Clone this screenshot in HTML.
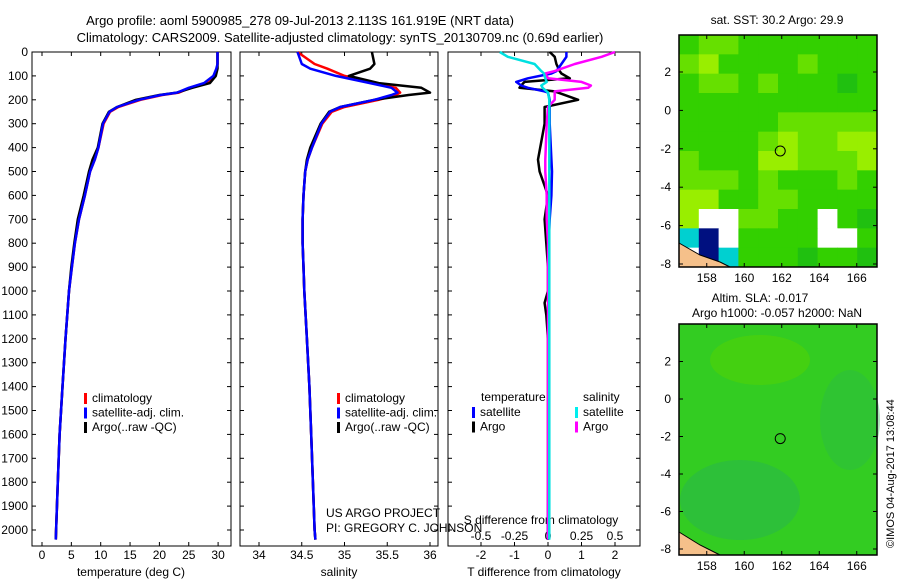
<!DOCTYPE html>
<html><head><meta charset="utf-8"><style>
body{margin:0;background:#fff}
svg{font-family:"Liberation Sans",sans-serif;font-size:12px}
</style></head><body>
<svg id="c" width="900" height="580" xmlns="http://www.w3.org/2000/svg">
<rect width="900" height="580" fill="#fff"/>
<text x="300" y="25" text-anchor="middle" font-size="13">Argo profile: aoml 5900985_278 09-Jul-2013 2.113S 161.919E (NRT data)</text>
<text x="340" y="42" text-anchor="middle" font-size="13">Climatology: CARS2009. Satellite-adjusted climatology: synTS_20130709.nc (0.69d earlier)</text>
<g id="g"></g>
<text x="777" y="24" text-anchor="middle">sat. SST: 30.2 Argo: 29.9</text>
<text x="760" y="302" text-anchor="middle">Altim. SLA: -0.017</text>
<text x="777" y="317" text-anchor="middle">Argo h1000: -0.057 h2000: NaN</text>
<text transform="translate(894,548) rotate(-90)" font-size="11">©IMOS 04-Aug-2017 13:08:44</text>
<text x="326" y="517">US ARGO PROJECT</text>
<text x="326" y="532">PI: GREGORY C. JOHNSON</text>
</svg>
<script>
const NS="http://www.w3.org/2000/svg";
const depthTicks=[0,100,200,300,400,500,600,700,800,900,1000,1100,1200,1300,1400,1500,1600,1700,1800,1900,2000];
const tTicks=[0,5,10,15,20,25,30];
const sTicks=[34,34.5,35,35.5,36];
const dtTicks=[-2,-1,0,1,2];
const dsTicks=[-0.5,-0.25,0,0.25,0.5];
const depths=[0,50,70,100,130,150,170,180,200,230,250,300,400,450,500,600,700,800,900,1000,1200,1400,1600,1800,2000,2040];
const tClim=[29.9,29.9,29.8,29.4,28.0,25.2,23.3,20.5,16.8,13.0,11.6,10.5,9.6,9.0,8.2,7.3,6.3,5.6,5.1,4.6,4.0,3.5,3.0,2.7,2.4,2.35];
const tSat=[29.9,29.9,29.7,29.2,27.6,25.0,23.0,20.2,16.5,12.8,11.5,10.4,9.6,9.0,8.2,7.3,6.3,5.6,5.1,4.6,4.0,3.5,3.0,2.7,2.4,2.35];
const tArgo=[29.9,29.9,29.9,29.6,28.6,25.6,23.0,20.0,16.0,12.8,11.4,10.3,9.5,8.6,8.0,7.1,6.1,5.5,5.0,4.6,4.0,3.5,3.0,2.7,2.4,2.35];
const sClim=[34.45,34.65,34.8,35.0,35.35,35.6,35.65,35.6,35.4,35.0,34.85,34.74,34.62,34.57,34.54,34.52,34.51,34.51,34.52,34.53,34.56,34.59,34.61,34.63,34.65,34.66];
const sSat=[34.45,34.5,34.6,34.9,35.3,35.55,35.62,35.55,35.35,34.95,34.83,34.73,34.62,34.57,34.54,34.52,34.51,34.51,34.52,34.53,34.56,34.59,34.61,34.63,34.65,34.66];
const sArgo=[35.32,35.35,35.3,35.05,35.4,35.9,36.0,35.75,35.35,34.95,34.82,34.72,34.6,34.56,34.54,34.52,34.51,34.51,34.52,34.53,34.56,34.59,34.61,34.63,34.65,34.66];
const dDepths=[0,20,50,80,90,110,125,140,150,165,170,200,230,300,450,500,600,700,800,900,1000,1050,1100,1200,1500,2000,2040];
const dtSat=[0.55,0.55,0.4,0.25,0.1,-0.6,-0.95,-0.8,-0.6,-0.1,0,0.05,0.05,0.05,0.1,0.12,0.1,0.05,0.02,0.02,0.02,0.02,0.02,0.02,0.02,0.0,0.0];
const dtArgo=[0.05,0.2,0.25,0.35,0.4,0.65,-0.7,-0.8,-0.85,0.2,0.3,0.9,-0.1,-0.1,-0.3,-0.25,0,-0.1,-0.05,0,0,-0.1,-0.05,0,0,0,0];
const dsSat=[-0.36,-0.3,-0.1,-0.05,-0.03,-0.02,-0.01,-0.05,-0.04,-0.01,0,0.01,0.01,0.01,0.01,0.01,0.01,0.01,0.01,0.01,0.01,0.01,0.01,0.01,0.01,0.01,0.01];
const dsArgo=[0.5,0.4,0.2,0.05,-0.02,0.0,0.25,0.32,0.3,0.05,0.05,0.05,0.0,-0.01,-0.02,-0.02,-0.01,-0.01,0,0,0,0,0,0,0,0,0];
const sstRows=["1221111111","2311112111","1221211101","1111111111","1111122222","1111232233","2111332223","2221211121","3311221111","3ww2211w10","cnw1111ww1","wnc1110110"];
const sstColors={"0":"#20c010","1":"#33d000","2":"#66e000","3":"#99ee00","w":"#ffffff","c":"#00d0d0","n":"#001080"};

const g=document.getElementById('g');
function el(t,a,p){const e=document.createElementNS(NS,t);for(const k in a)e.setAttribute(k,a[k]);(p||g).appendChild(e);return e;}
const Y=d=>52+d*0.239;
const P1={x0:32,x1:231,f:v=>42+v*5.87};
const P2={x0:240,x1:438,f:v=>259+(v-34)*85.5};
const P3={x0:448,x1:640,f:v=>548+v*33.5};
const fS=v=>548+v*134;
const TOP=52,BOT=546;

function frame(p,name){
  const r=el('rect',{x:p.x0,y:TOP,width:p.x1-p.x0,height:BOT-TOP,fill:'none',stroke:'#000'});
  
  
  depthTicks.forEach(d=>{el('line',{x1:p.x0,x2:p.x0+4,y1:Y(d),y2:Y(d),stroke:'#000'});el('line',{x1:p.x1-4,x2:p.x1,y1:Y(d),y2:Y(d),stroke:'#000'});});
}
frame(P1,'temperature-panel');frame(P2,'salinity-panel');frame(P3,'difference-panel');
depthTicks.forEach(d=>{const t=el('text',{x:28,y:Y(d)+4,'text-anchor':'end'});t.textContent=d;

});
function xt(p,ticks,f,ly,fmt){ticks.forEach(v=>{const x=f(v);el('line',{x1:x,x2:x,y1:BOT,y2:BOT-4,stroke:'#000'});el('line',{x1:x,x2:x,y1:TOP,y2:TOP+4,stroke:'#000'});
const t=el('text',{x:x,y:ly,'text-anchor':'middle'});t.textContent=fmt?fmt(v):v;

});}
xt(P1,tTicks,P1.f,559);xt(P2,sTicks,P2.f,559);xt(P3,dtTicks,P3.f,559);
dsTicks.forEach(v=>{const x=fS(v);el('line',{x1:x,x2:x,y1:BOT,y2:BOT-4,stroke:'#000'});const t=el('text',{x:x,y:540,'text-anchor':'middle'});t.textContent=v;

});
[['temperature (deg C)',131,'temperature-axis-title'],['salinity',339,'salinity-axis-title'],['T difference from climatology',544,'t-diff-axis-title']].forEach(a=>{const t=el('text',{x:a[1],y:576,'text-anchor':'middle'});t.textContent=a[0];

});
{const t=el('text',{x:541,y:524,'text-anchor':'middle'});t.textContent='S difference from climatology';

}

function line(ds,vs,f,col,name){const pts=ds.map((d,i)=>f(vs[i]).toFixed(1)+','+Y(d).toFixed(1)).join(' ');
const l=el('polyline',{points:pts,fill:'none',stroke:col,'stroke-width':2.5,'stroke-linejoin':'round'});

}
line(depths,tClim,P1.f,'#ff0000','temp-climatology-line');
line(depths,tArgo,P1.f,'#000000','temp-argo-line');
line(depths,tSat,P1.f,'#0000ff','temp-satellite-line');
line(depths,sClim,P2.f,'#ff0000','sal-climatology-line');
line(depths,sArgo,P2.f,'#000000','sal-argo-line');
line(depths,sSat,P2.f,'#0000ff','sal-satellite-line');
line(dDepths,dtArgo,P3.f,'#000000','tdiff-argo-line');
line(dDepths,dtSat,P3.f,'#0000ff','tdiff-satellite-line');
line(dDepths,dsArgo,fS,'#ff00ff','sdiff-argo-line');
line(dDepths,dsSat,fS,'#00e0e0','sdiff-satellite-line');

function legend(x,y,items){items.forEach((it,i)=>{el('rect',{x:x,y:y+i*14.5-9,width:3,height:11,fill:it[1]});const t=el('text',{x:x+8,y:y+i*14.5});t.textContent=it[0];

});}
const leg=[['climatology','#f00'],['satellite-adj. clim.','#00f'],['Argo(..raw -QC)','#000']];
legend(84,402,leg);legend(337,402,leg);
{const t=el('text',{x:481,y:401});t.textContent='temperature';
const s=el('text',{x:583,y:401});s.textContent='salinity';}
legend(472,416,[['satellite','#00f'],['Argo','#000']]);
legend(575,416,[['satellite','#0ee'],['Argo','#f0f']]);

function mapAxes(x0,y0,x1,y1,lat0,latScale,name){
  const lonF=v=>688+(v-157)*18.75;
  [158,160,162,164,166].forEach(v=>{const x=lonF(v);el('line',{x1:x,x2:x,y1:y1,y2:y1-4,stroke:'#000'});el('line',{x1:x,x2:x,y1:y0,y2:y0+4,stroke:'#000'});
   const t=el('text',{x:x,y:y1+15,'text-anchor':'middle'});t.textContent=v;});
  [2,0,-2,-4,-6,-8].forEach(v=>{const y=lat0-v*latScale;el('line',{x1:x0,x2:x0+4,y1:y,y2:y,stroke:'#000'});el('line',{x1:x1-4,x2:x1,y1:y,y2:y,stroke:'#000'});
   const t=el('text',{x:x0-8,y:y+4,'text-anchor':'end'});t.textContent=v;});
  const r=el('rect',{x:x0,y:y0,width:x1-x0,height:y1-y0,fill:'none',stroke:'#000','stroke-width':1.5});
  
}
const m1={x0:679,y0:35,x1:877,y1:267};
const cw=(m1.x1-m1.x0)/10,ch=(m1.y1-m1.y0)/12;
sstRows.forEach((row,r)=>[...row].forEach((c,k)=>{const e=el('rect',{x:m1.x0+k*cw,y:m1.y0+r*ch,width:cw+0.5,height:ch+0.5,fill:sstColors[c]});

}));
el('path',{d:'M679,243 L700,255 L720,262 L730,267 L679,267 Z',fill:'#f5c08a',stroke:'#000'});
el('circle',{cx:688+(161.919-157)*18.75,cy:110.4+2.113*19.2,r:5,fill:'none',stroke:'#000'});
mapAxes(m1.x0,m1.y0,m1.x1,m1.y1,110.4,19.2,'sst-map');
const m2={x0:679,y0:324,x1:877,y1:555};
el('rect',{x:m2.x0,y:m2.y0,width:198,height:231,fill:'#33cc22'});
el('ellipse',{cx:740,cy:500,rx:60,ry:40,fill:'#2ab84a',opacity:0.6});
el('ellipse',{cx:850,cy:420,rx:30,ry:50,fill:'#2ab84a',opacity:0.4});
el('ellipse',{cx:760,cy:360,rx:50,ry:25,fill:'#55d400',opacity:0.5});
el('path',{d:'M679,532 L700,545 L720,555 L679,555 Z',fill:'#f5c08a',stroke:'#000'});
el('circle',{cx:688+(161.919-157)*18.75,cy:399+2.113*18.75,r:5,fill:'none',stroke:'#000'});
mapAxes(m2.x0,m2.y0,m2.x1,m2.y1,399,18.75,'sla-map');
</script>
</body></html>
